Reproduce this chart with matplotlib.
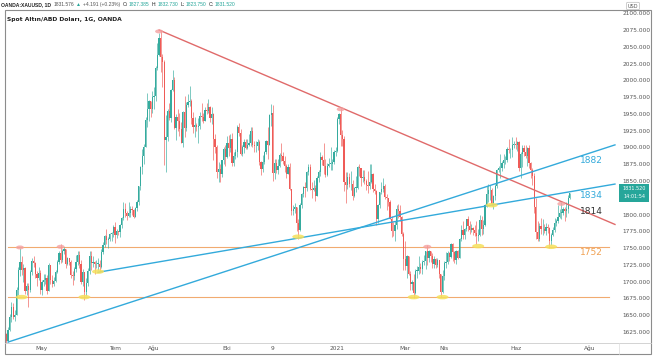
import matplotlib
matplotlib.use("Agg")
import matplotlib.pyplot as plt
from matplotlib.patches import Ellipse, Rectangle
from matplotlib.lines import Line2D
import numpy as np
import pandas as pd

# OANDA daily session days (holidays without a candle removed)
skip_days = ["2020-04-10", "2020-12-25", "2021-01-01", "2021-04-02"]

first_open = 1622
closes = [
    # Apr 2020
    1612, 1628, 1648, 1662, 1648, 1650, 1688, 1718, 1730, 1718, 1720, 1686, 1694, 1688, 1714, 1731, 1728, 1712, 1706, 1713, 1688,
    # May 2020
    1700, 1702, 1705, 1686, 1725, 1702, 1697, 1701, 1715, 1730, 1743, 1733, 1745, 1748, 1726, 1735, 1729, 1710, 1708, 1719, 1730,
    # Jun 2020
    1740, 1727, 1699, 1714, 1685, 1698, 1716, 1738, 1728, 1730, 1726, 1727, 1727, 1722, 1744, 1754, 1768, 1762, 1763, 1771, 1772, 1781,
    # Jul 2020
    1770, 1775, 1774, 1784, 1795, 1809, 1803, 1798, 1802, 1809, 1807, 1797, 1810, 1818, 1843, 1871, 1888, 1901, 1941, 1958, 1970, 1957, 1975,
    # Aug 2020
    1976, 2019, 2038, 2063, 2035, 2027, 1911, 1915, 1954, 1944, 1985, 2000, 1929, 1946, 1940, 1928, 1907, 1953, 1929, 1964, 1968,
    # Sep 2020
    1970, 1944, 1930, 1933, 1930, 1932, 1947, 1946, 1940, 1956, 1955, 1961, 1944, 1950, 1912, 1900, 1863, 1868, 1861, 1881, 1898, 1886,
    # Oct 2020
    1906, 1899, 1913, 1877, 1887, 1894, 1930, 1922, 1891, 1901, 1908, 1899, 1904, 1907, 1925, 1904, 1902, 1902, 1908, 1878, 1868, 1879,
    # Nov 2020
    1894, 1910, 1904, 1948, 1951, 1862, 1877, 1866, 1873, 1889, 1887, 1880, 1872, 1861, 1871, 1838, 1806, 1809, 1811, 1788, 1777,
    # Dec 2020
    1815, 1831, 1841, 1839, 1864, 1871, 1838, 1836, 1839, 1827, 1855, 1864, 1886, 1881, 1872, 1859, 1873, 1876, 1876, 1878, 1893, 1895,
    # Jan 2021
    1943, 1950, 1918, 1912, 1849, 1844, 1856, 1845, 1846, 1828, 1840, 1840, 1871, 1870, 1855, 1856, 1850, 1844, 1843, 1848,
    # Feb 2021
    1861, 1838, 1835, 1794, 1814, 1834, 1838, 1842, 1826, 1824, 1819, 1794, 1776, 1775, 1784, 1809, 1806, 1797, 1771, 1734,
    # Mar 2021
    1723, 1738, 1712, 1697, 1700, 1683, 1716, 1716, 1722, 1719, 1730, 1731, 1745, 1735, 1745, 1738, 1726, 1734, 1725, 1732, 1712, 1685, 1708,
    # Apr 2021
    1728, 1729, 1743, 1737, 1756, 1744, 1732, 1746, 1736, 1764, 1777, 1770, 1778, 1793, 1783, 1777, 1780, 1777, 1773, 1768, 1769,
    # May 2021
    1792, 1779, 1784, 1815, 1831, 1836, 1836, 1816, 1827, 1843, 1867, 1869, 1870, 1877, 1881, 1881, 1898, 1896, 1896, 1904, 1905,
    # Jun 2021
    1903, 1908, 1870, 1890, 1899, 1893, 1888, 1899, 1877, 1866, 1858, 1812, 1774, 1764, 1783, 1778, 1779, 1776, 1781, 1780, 1761, 1770,
    # Jul 2021
    1777, 1787, 1791, 1796, 1803, 1803, 1808, 1805, 1808, 1824, 1831.52,
]
highs = [
    1624, 1632, 1652, 1670, 1668, 1658, 1692, 1722, 1750, 1738, 1726, 1722, 1698, 1698, 1718, 1736, 1738, 1730, 1716, 1722, 1718,
    1703, 1712, 1712, 1710, 1728, 1722, 1710, 1707, 1718, 1732, 1746, 1756, 1748, 1752, 1746, 1737, 1736, 1732, 1716, 1722, 1740,
    1746, 1745, 1732, 1719, 1715, 1705, 1720, 1745, 1745, 1738, 1731, 1732, 1735, 1732, 1748, 1759, 1770, 1778, 1766, 1773, 1774, 1785,
    1789, 1779, 1776, 1786, 1796, 1818, 1817, 1806, 1818, 1813, 1813, 1809, 1812, 1822, 1843, 1872, 1898, 1905, 1945, 1981, 1971, 1970, 1984,
    1990, 2021, 2055, 2070, 2075, 2040, 2030, 1949, 1957, 1967, 1987, 2015, 2005, 1950, 1958, 1952, 1938, 1954, 1977, 1968, 1980,
    1992, 1973, 1953, 1945, 1937, 1944, 1953, 1966, 1952, 1961, 1966, 1973, 1962, 1960, 1952, 1920, 1903, 1879, 1876, 1882, 1900, 1903,
    1917, 1918, 1920, 1921, 1893, 1897, 1933, 1936, 1927, 1904, 1913, 1912, 1912, 1920, 1931, 1931, 1910, 1909, 1912, 1911, 1880, 1889,
    1895, 1911, 1930, 1950, 1965, 1963, 1883, 1883, 1883, 1892, 1906, 1894, 1888, 1876, 1876, 1877, 1838, 1814, 1817, 1812, 1793,
    1817, 1832, 1843, 1848, 1865, 1876, 1875, 1848, 1851, 1844, 1857, 1867, 1893, 1889, 1907, 1883, 1877, 1884, 1900, 1883, 1896, 1900,
    1945, 1952, 1959, 1926, 1917, 1863, 1863, 1862, 1865, 1852, 1841, 1857, 1872, 1875, 1870, 1867, 1867, 1853, 1865, 1876,
    1875, 1862, 1846, 1837, 1816, 1834, 1848, 1855, 1845, 1830, 1825, 1822, 1798, 1789, 1790, 1814, 1816, 1815, 1798, 1774,
    1760, 1740, 1739, 1716, 1702, 1712, 1719, 1724, 1739, 1728, 1732, 1740, 1746, 1755, 1747, 1746, 1743, 1738, 1736, 1735, 1732, 1712, 1717,
    1731, 1744, 1745, 1744, 1758, 1758, 1746, 1747, 1747, 1765, 1784, 1790, 1780, 1794, 1798, 1790, 1786, 1782, 1785, 1790, 1779,
    1799, 1798, 1792, 1816, 1843, 1845, 1844, 1839, 1829, 1846, 1868, 1873, 1890, 1880, 1890, 1887, 1900, 1913, 1899, 1916, 1910,
    1916, 1910, 1910, 1894, 1903, 1903, 1903, 1901, 1903, 1879, 1869, 1862, 1825, 1790, 1787, 1795, 1794, 1786, 1787, 1786, 1781, 1772,
    1782, 1795, 1794, 1815, 1809, 1818, 1812, 1811, 1818, 1829, 1832.73,
]
lows = [
    1608, 1610, 1626, 1640, 1644, 1642, 1650, 1680, 1708, 1710, 1700, 1682, 1680, 1662, 1684, 1710, 1722, 1706, 1694, 1702, 1682,
    1680, 1693, 1697, 1682, 1686, 1696, 1692, 1694, 1700, 1713, 1727, 1728, 1730, 1741, 1721, 1725, 1725, 1706, 1695, 1703, 1714,
    1725, 1720, 1697, 1693, 1672, 1678, 1693, 1712, 1718, 1722, 1712, 1720, 1717, 1714, 1720, 1741, 1752, 1756, 1750, 1760, 1761, 1766,
    1758, 1765, 1770, 1767, 1780, 1792, 1797, 1792, 1797, 1797, 1799, 1795, 1796, 1805, 1814, 1837, 1861, 1876, 1901, 1931, 1939, 1945, 1952,
    1958, 1969, 2016, 2037, 2013, 1990, 1874, 1863, 1909, 1941, 1938, 1984, 1927, 1911, 1925, 1917, 1908, 1900, 1915, 1924, 1960,
    1962, 1935, 1922, 1916, 1925, 1907, 1928, 1939, 1936, 1939, 1950, 1951, 1938, 1935, 1882, 1892, 1855, 1849, 1849, 1856, 1876, 1872,
    1884, 1888, 1894, 1873, 1873, 1883, 1886, 1917, 1889, 1888, 1892, 1897, 1898, 1902, 1902, 1901, 1894, 1894, 1896, 1874, 1859, 1864,
    1876, 1891, 1883, 1905, 1932, 1850, 1853, 1862, 1861, 1871, 1880, 1875, 1863, 1855, 1860, 1836, 1800, 1799, 1803, 1775, 1764,
    1776, 1810, 1826, 1826, 1835, 1859, 1836, 1825, 1835, 1820, 1829, 1849, 1858, 1874, 1860, 1856, 1858, 1871, 1866, 1866, 1875, 1887,
    1894, 1935, 1902, 1902, 1835, 1817, 1838, 1841, 1836, 1822, 1826, 1834, 1838, 1857, 1842, 1848, 1846, 1836, 1832, 1838,
    1847, 1834, 1830, 1785, 1788, 1810, 1830, 1833, 1823, 1807, 1813, 1793, 1767, 1768, 1760, 1779, 1795, 1791, 1768, 1717,
    1717, 1706, 1710, 1687, 1687, 1676, 1681, 1705, 1712, 1713, 1712, 1725, 1719, 1725, 1730, 1730, 1721, 1721, 1721, 1722, 1706, 1677, 1683,
    1703, 1720, 1726, 1731, 1735, 1731, 1728, 1726, 1734, 1737, 1761, 1764, 1763, 1776, 1776, 1771, 1774, 1770, 1768, 1756, 1761,
    1768, 1769, 1771, 1783, 1811, 1818, 1822, 1813, 1808, 1822, 1840, 1863, 1855, 1865, 1870, 1875, 1878, 1892, 1884, 1886, 1899,
    1898, 1895, 1865, 1855, 1871, 1888, 1884, 1872, 1870, 1855, 1844, 1802, 1764, 1761, 1761, 1771, 1770, 1772, 1769, 1773, 1750, 1755,
    1768, 1774, 1783, 1787, 1795, 1794, 1800, 1791, 1796, 1802, 1823.75,
]

tick_dates = ["2020-05-01", "2020-07-01", "2020-08-03", "2020-10-01", "2020-11-09",
              "2021-01-04", "2021-03-01", "2021-04-01", "2021-06-01", "2021-08-02"]
tick_labels = ["May", "Tem", "Ağu", "Eki", "9", "2021", "Mar", "Nis", "Haz", "Ağu"]

# drawn trendlines: two anchor points each (date, price)
red_line = [("2020-08-06", 2075), ("2021-07-15", 1814)]
blue_line_a = [("2020-04-02", 1610), ("2021-07-15", 1882)]
blue_line_b = [("2020-06-17", 1714), ("2021-07-15", 1834)]
levels = [1752, 1677]
level_start = "2020-04-02"

# label text, placed at these prices near the right edge
line_labels = [("1882", 1881), ("1834", 1829), ("1814", 1805), ("1752", 1744)]

# highlighted swing highs (red) / lows (yellow)
swing_highs = [("2020-04-14", 1751), ("2020-05-18", 1752), ("2020-08-06", 2073),
               ("2021-01-06", 1957), ("2021-03-18", 1752), ("2021-07-08", 1816)]
swing_lows = [("2020-04-15", 1677), ("2020-06-05", 1677), ("2020-06-17", 1715),
              ("2020-11-30", 1767), ("2021-03-08", 1677), ("2021-03-31", 1677),
              ("2021-04-30", 1753), ("2021-05-12", 1814), ("2021-06-30", 1752)]

header = [
    ("OANDA:XAUUSD, 1D", "#222222", "bold"),
    ("1831.576", "#555555", "normal"),
    ("▲", "#26a69a", "normal"),
    ("+4.191 (+0.23%)", "#555555", "normal"),
    ("O:", "#222222", "normal"),
    ("1827.385", "#26a69a", "normal"),
    ("H:", "#222222", "normal"),
    ("1832.730", "#26a69a", "normal"),
    ("L:", "#222222", "normal"),
    ("1823.750", "#26a69a", "normal"),
    ("C:", "#222222", "normal"),
    ("1831.520", "#26a69a", "normal"),
]
last_price = "1831.520"
countdown = "14:01:54"

GREEN = "#35ab9e"
RED = "#ef5b57"
BLUE = "#33aadb"
TRED = "#e06a6a"
ORANGE = "#f1ab70"

# calendar of session days, extended past the data for the axis
cal = pd.bdate_range("2020-04-01", "2021-09-30")
cal = cal[~cal.isin(pd.to_datetime(skip_days))]
ndays = len(closes)


def day_idx(d):
    return cal.get_loc(pd.Timestamp(d))


x = np.arange(ndays)
c = np.array(closes, dtype=float)
o = np.r_[first_open, c[:-1]]
h = np.maximum(np.array(highs, dtype=float), np.maximum(o, c))
l = np.minimum(np.array(lows, dtype=float), np.minimum(o, c))
cols = np.where(c >= o, GREEN, RED)

W, H = 654, 358
fig = plt.figure(figsize=(W / 100, H / 100), dpi=100)


def fx(px):
    return px / W


def fy(py):
    return 1 - py / H


ax = fig.add_axes([fx(5), fy(343), fx(617) - fx(5), fy(10) - fy(343)])
ax.set_xlim(-0.8, 359.8)
ax.set_ylim(1608.6, 2104.9)
for s in ax.spines.values():
    s.set_visible(False)

x_end = 358.6

# horizontal levels
for lv in levels:
    ax.plot([day_idx(level_start), 355], [lv, lv], color=ORANGE, lw=0.8, zorder=1)

# trendlines
for pts, col in [(red_line, TRED), (blue_line_a, BLUE), (blue_line_b, BLUE)]:
    (d0, p0), (d1, p1) = pts
    i0, i1 = day_idx(d0), day_idx(d1)
    slope = (p1 - p0) / (i1 - i0)
    ax.plot([i0, x_end], [p0, p0 + slope * (x_end - i0)], color=col, lw=1.0, zorder=3)

# candles
ax.vlines(x, l, h, colors=cols, lw=0.45, zorder=2)
body = np.maximum(np.abs(c - o), 0.8)
ax.bar(x, body, bottom=np.minimum(o, c), width=0.72, color=cols, lw=0, zorder=2)

# swing highlights
for d, p in swing_highs:
    ax.add_patch(Ellipse((day_idx(d), p), 8 / 1.697, 4 / 0.671,
                         facecolor="#f4a0a0", edgecolor="none", alpha=0.8, zorder=4))
for d, p in swing_lows:
    ax.add_patch(Ellipse((day_idx(d), p), 12 / 1.697, 4.5 / 0.671,
                         facecolor="#f5e05a", edgecolor="none", alpha=0.85, zorder=4))

# line value labels
label_cols = [BLUE, BLUE, "#333333", "#f0a050"]
for (txt, p), col in zip(line_labels, label_cols):
    ax.text(345, p, txt, color=col, fontsize=6.5, ha="center", va="center", zorder=5)

# price scale (the 1825 label sits under the last price tag)
ax.yaxis.tick_right()
yt = np.arange(1625, 2101, 25)
ax.set_yticks(yt)
ax.set_yticklabels(["" if v == 1825 else f"{v:.3f}" for v in yt], fontsize=4.2, color="#555555")
ax.tick_params(axis="y", length=0, pad=4)

# time scale
ax.set_xticks([day_idx(d) for d in tick_dates])
ax.set_xticklabels(tick_labels, fontsize=4.2, color="#555555")
ax.tick_params(axis="x", length=0, pad=2)

# frame and separators
fig.add_artist(Rectangle((fx(5), fy(354)), fx(651) - fx(5), fy(10) - fy(354),
                         transform=fig.transFigure, fill=False, edgecolor="#8c8c8c", lw=0.8))
fig.add_artist(Line2D([fx(5), fx(651)], [fy(343), fy(343)], transform=fig.transFigure,
                      color="#cccccc", lw=0.6))
fig.add_artist(Line2D([fx(619), fx(619)], [fy(343), fy(354)], transform=fig.transFigure,
                      color="#dddddd", lw=0.5))

# last price tag
fig.add_artist(Rectangle((fx(619), fy(201.5)), fx(649) - fx(619), fy(183.5) - fy(201.5),
                         transform=fig.transFigure, facecolor="#26a69a", edgecolor="none"))
fig.text(fx(634), fy(188), last_price, color="white", fontsize=3.5, ha="center", va="center")
fig.text(fx(634), fy(196.5), countdown, color="white", fontsize=3.5, ha="center", va="center")

# currency tag at top of the price scale
fig.text(fx(633), fy(6), "USD", color="#555555", fontsize=3.6, ha="center", va="center",
         bbox=dict(boxstyle="round,pad=0.25", facecolor="white", edgecolor="#aaaaaa", lw=0.4))

# header line, laid out left to right
renderer = fig.canvas.get_renderer()
cur = 1.0
for txt, col, wt in header:
    t = fig.text(fx(cur), fy(4.5), txt, color=col, fontsize=3.6, fontweight=wt,
                 family=["Liberation Sans", "DejaVu Sans"], ha="left", va="center")
    bb = t.get_window_extent(renderer)
    cur = bb.x1 + (1.0 if txt.endswith(":") else 2.2)

ax.text(0.004, 0.97, "Spot Altın/ABD Doları, 1G, OANDA", transform=ax.transAxes,
        fontsize=4.3, fontweight="bold", color="#222222", ha="left", va="center")

fig.savefig("out.png", dpi=100)
